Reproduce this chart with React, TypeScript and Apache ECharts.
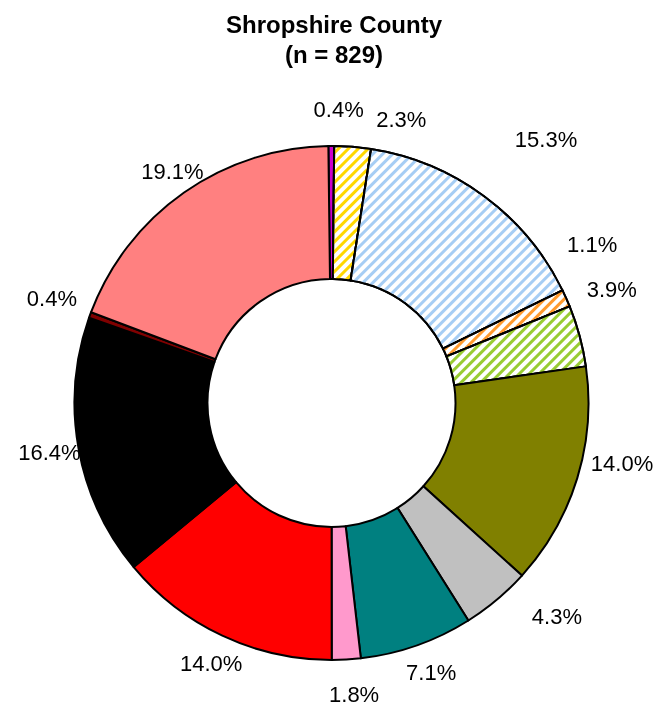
import React, { useEffect, useRef } from "react";
import * as echarts from "echarts";

const titleLines = ["Shropshire County", "(n = 829)"];
const total = 829;
const counts = [3, 19, 127, 9, 32, 116, 36, 59, 15, 116, 136, 3, 158];
const colors = [
  "#CC00CC", "#FFD700", "#A6CDF4", "#FF9A2E", "#99CC33", "#808000",
  "#C0C0C0", "#008080", "#FF99CC", "#FF0000", "#000000", "#800000", "#FF8080",
];
const hatched = [false, true, true, true, true, false, false, false, false, false, false, false, false];
// small label nudges (px) to keep labels clear of each other, as in the original
const labelNudge: [number, number][] = [
  [9, 2], [47, 12], [40, -24], [-9, -36], [-5, -35], [7, -25], [34, -12],
  [0, -9], [4, -4], [4, -8], [9, -4], [-1, -5], [12, 10],
];

export default function App() {
  const ref = useRef<HTMLDivElement>(null);
  useEffect(() => {
    if (!ref.current) return;
    const chart = echarts.init(ref.current, undefined, { renderer: "svg" });
    const pct = (v: number) => ((v / total) * 100).toFixed(1) + "%";
    const sliceData = counts.map((v, i) => ({
      value: v,
      name: "s" + i,
      itemStyle: hatched[i]
        ? {
            color: "#FFFFFF",
            decal: {
              symbol: "rect",
              symbolSize: 1,
              dashArrayX: [1, 0],
              dashArrayY: [3, 4],
              rotation: -Math.PI / 4,
              color: colors[i],
            },
          }
        : { color: colors[i] },
    }));
    const labelData = counts.map((v, i) => ({ value: v, name: "l" + i }));
    chart.setOption({
      animation: false,
      title: {
        text: titleLines.join("\n"),
        left: "center",
        top: 4,
        textStyle: {
          fontFamily: "Liberation Sans",
          fontSize: 24,
          fontWeight: "bold",
          color: "#000",
          lineHeight: 30,
        },
      },
      series: [
        {
          type: "pie",
          center: [331.5, 403],
          radius: [124, 257],
          startAngle: 90.7,
          clockwise: true,
          silent: true,
          label: { show: false },
          labelLine: { show: false },
          itemStyle: { borderColor: "#000", borderWidth: 2 },
          data: sliceData,
        },
        {
          type: "pie",
          center: [331.5, 403],
          radius: [292, 294],
          startAngle: 91,
          clockwise: true,
          silent: true,
          avoidLabelOverlap: false,
          itemStyle: { color: "transparent", borderWidth: 0 },
          label: {
            show: true,
            position: "inside",
            fontFamily: "Liberation Sans",
            fontSize: 22,
            color: "#000",
            formatter: (p: any) => pct(p.value),
          },
          labelLine: { show: false },
          labelLayout: (p: any) => ({
            dx: labelNudge[p.dataIndex][0],
            dy: labelNudge[p.dataIndex][1],
            hideOverlap: false,
          }),
          data: labelData,
        },
      ],
    });
    return () => chart.dispose();
  }, []);
  return (
    <div
      ref={ref}
      style={{ position: "fixed", left: 0, top: 0, width: 668, height: 709 }}
    />
  );
}
